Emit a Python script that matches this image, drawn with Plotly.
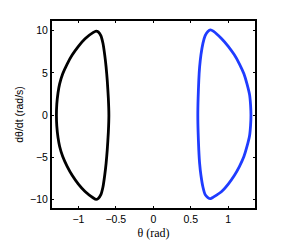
import plotly.graph_objects as go

# Black orbit (theta, dtheta/dt), traced clockwise from the top peak
black_theta = [-0.763, -0.735, -0.700, -0.672, -0.649, -0.630, -0.615, -0.600,
               -0.593, -0.600, -0.615, -0.630, -0.649, -0.672, -0.700, -0.735,
               -0.763, -0.800, -0.911, -1.000, -1.081, -1.150, -1.209, -1.250,
               -1.272, -1.288, -1.293, -1.288, -1.272, -1.250, -1.209, -1.150,
               -1.081, -1.000, -0.911, -0.800, -0.763]
black_omega = [9.95, 9.85, 9.41, 8.50, 7.16, 5.70, 4.14, 2.00,
               0.00, -2.00, -4.13, -5.70, -7.14, -8.50, -9.40, -9.85,
               -9.97, -9.80, -9.03, -8.15, -7.14, -6.05, -4.89, -3.70,
               -2.63, -1.30, 0.00, 1.30, 2.63, 3.70, 4.89, 6.05,
               7.14, 8.15, 9.05, 9.80, 9.95]

# Blue orbit, traced clockwise from the top peak
blue_theta = [0.763, 0.800, 0.912, 1.000, 1.081, 1.150, 1.209, 1.250,
              1.285, 1.298, 1.303, 1.298, 1.285, 1.250, 1.209, 1.150,
              1.081, 1.000, 0.912, 0.800, 0.763, 0.728, 0.692, 0.662,
              0.636, 0.618, 0.607, 0.598, 0.594, 0.598, 0.607, 0.618,
              0.636, 0.662, 0.692, 0.728, 0.763]
blue_omega = [10.10, 9.95, 9.05, 8.15, 7.14, 6.05, 4.89, 3.70,
              2.40, 1.20, 0.00, -1.20, -2.40, -3.70, -4.89, -6.05,
              -7.14, -8.15, -9.03, -9.70, -9.88, -9.75, -9.40, -8.50,
              -7.14, -5.70, -4.13, -2.00, 0.00, 2.00, 4.14, 5.70,
              7.16, 8.50, 9.41, 9.90, 10.10]

x_ticks = [-1, -0.5, 0, 0.5, 1]
x_tick_labels = ["\u22121", "\u22120.5", "0", "0.5", "1"]
y_ticks = [-10, -5, 0, 5, 10]
y_tick_labels = ["\u221210", "\u22125", "0", "5", "10"]

fig = go.Figure()
fig.add_trace(go.Scatter(x=black_theta, y=black_omega, mode="lines",
                         line=dict(color="black", width=2.8, shape="spline", smoothing=0.6),
                         showlegend=False))
fig.add_trace(go.Scatter(x=blue_theta, y=blue_omega, mode="lines",
                         line=dict(color="#1f3cff", width=2.8, shape="spline", smoothing=0.6),
                         showlegend=False))

tickfont = dict(family="Liberation Sans", size=10.5, color="black")
fig.update_layout(
    width=273, height=241,
    margin=dict(l=34, r=26, t=11, b=35),
    paper_bgcolor="white", plot_bgcolor="white",
    xaxis=dict(range=[-1.352, 1.357], tickvals=x_ticks, ticktext=x_tick_labels,
               ticks="inside", ticklen=2, tickwidth=1, tickcolor="black",
               showline=True, linecolor="black", linewidth=2, mirror="ticks",
               showgrid=False, zeroline=False, tickfont=tickfont,
               title=dict(text="\u03b8 (rad)", standoff=5,
                          font=dict(family="Liberation Serif", size=12, color="black"))),
    yaxis=dict(range=[-10.98, 11.14], tickvals=y_ticks, ticktext=y_tick_labels,
               ticks="inside", ticklen=2, tickwidth=1, tickcolor="black",
               showline=True, linecolor="black", linewidth=2, mirror="ticks",
               showgrid=False, zeroline=False, tickfont=tickfont,
               title=dict(text="d\u03b8/dt (rad/s)", standoff=4,
                          font=dict(family="Liberation Sans", size=10.5, color="black"))),
)

fig.write_html("out.html")
